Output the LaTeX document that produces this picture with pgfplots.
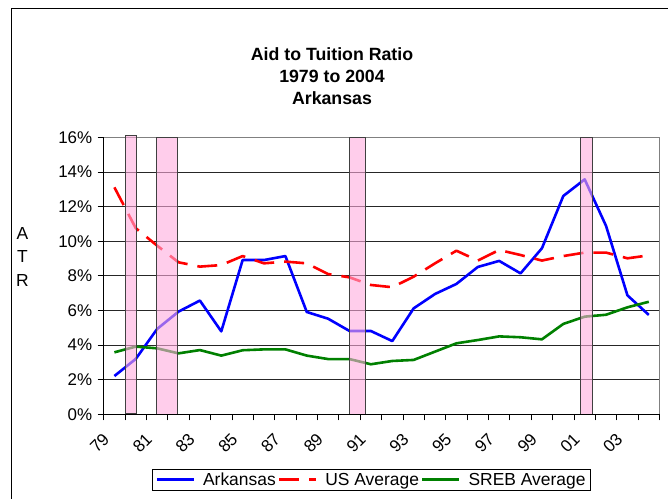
\documentclass[border=0pt]{standalone}
\usepackage{fontspec}
\setmainfont{Liberation Sans}
\usepackage{pgfplots}
\pgfplotsset{compat=1.18}
\definecolor{arblue}{RGB}{0,0,255}
\definecolor{usred}{RGB}{255,0,0}
\definecolor{srebgreen}{RGB}{0,128,0}
\definecolor{recpink}{RGB}{255,171,222}
\pgfplotsset{
  legend image code/.code={\draw[#1,line cap=butt] (0bp,0bp) -- (37bp,0bp);}
}
\begin{document}
\begin{tikzpicture}
\useasboundingbox (0,0) rectangle (668bp,499bp);
\draw[line width=1bp] (11.7bp,-5bp) -- (11.7bp,490.7bp) -- (680bp,490.7bp);
\node[align=center, font=\fontsize{17.8}{22}\selectfont\bfseries, inner sep=0pt] at (332bp,423bp) {Aid to Tuition Ratio\\1979 to 2004\\Arkansas};
\node[align=center, font=\fontsize{17.5}{24}\selectfont, inner sep=0pt] at (22.5bp,242bp) {A\\T\\R};
\begin{axis}[
  at={(103.7bp,84.7bp)}, anchor=south west,
  scale only axis, width=555.8bp, height=277bp,
  xmin=1978.5, xmax=2004.5, ymin=0, ymax=16,
  clip=false,
  axis line style={draw=gray, line width=0.8bp},
  ytick={0,2,...,16},
  yticklabels={0\%,2\%,4\%,6\%,8\%,10\%,12\%,14\%,16\%},
  ymajorgrids, grid style={black!85, line width=0.8bp},
  xtick={1979,1981,...,2003},
  xticklabels={79,81,83,85,87,89,91,93,95,97,99,01,03},
  minor xtick={1978.5,1979.5,...,2004.5},
  tick align=outside, major tick length=6bp, minor tick length=6bp,
  tick pos=left,
  tick style={black, line width=0.8bp},
  every major x tick/.style={draw=none},
  tick label style={font=\fontsize{17}{20}\selectfont},
  yticklabel style={xshift=-2bp},
  xticklabel style={xshift=-8bp, yshift=-16bp, rotate=45, anchor=east, inner sep=0pt},
  legend style={at={(axis description cs:0.0874,-0.199)}, anchor=north west,
    legend columns=3, draw=black, font=\fontsize{17.5}{20}\selectfont,
    inner xsep=3bp, inner ysep=1bp,
    /tikz/every odd column/.append style={column sep=6bp}},
  legend cell align=left,
]
\addplot[arblue, line width=2.6bp, line join=round] coordinates {
(1979,2.21) (1980,3.2) (1981,4.93) (1982,5.93) (1983,6.57) (1984,4.79)
(1985,8.91) (1986,8.91) (1987,9.14) (1988,5.91) (1989,5.52) (1990,4.81)
(1991,4.81) (1992,4.23) (1993,6.12) (1994,6.95) (1995,7.53) (1996,8.51)
(1997,8.86) (1998,8.14) (1999,9.59) (2000,12.61) (2001,13.57) (2002,10.88)
(2003,6.87) (2004,5.74)};
\addlegendentry{Arkansas}
\addplot[usred, line width=2.6bp, line join=round, dash pattern=on 20bp off 10bp] coordinates {
(1979,13.11) (1980,10.75) (1981,9.74) (1982,8.78) (1983,8.53) (1984,8.62)
(1985,9.14) (1986,8.72) (1987,8.82) (1988,8.72) (1989,8.10) (1990,7.91)
(1991,7.47) (1992,7.34) (1993,7.95) (1994,8.72) (1995,9.45) (1996,8.88)
(1997,9.49) (1998,9.20) (1999,8.88) (2000,9.14) (2001,9.34) (2002,9.34)
(2003,9.01) (2004,9.18)};
\addlegendentry{US Average}
\addplot[srebgreen, line width=2.6bp, line join=round] coordinates {
(1979,3.58) (1980,3.91) (1981,3.81) (1982,3.52) (1983,3.71) (1984,3.39)
(1985,3.70) (1986,3.75) (1987,3.75) (1988,3.39) (1989,3.19) (1990,3.19)
(1991,2.89) (1992,3.08) (1993,3.14) (1994,3.62) (1995,4.10) (1996,4.29)
(1997,4.50) (1998,4.45) (1999,4.33) (2000,5.22) (2001,5.64) (2002,5.75)
(2003,6.18) (2004,6.50)};
\addlegendentry{SREB Average}
\addplot[forget plot, fill=recpink, fill opacity=0.6, draw=black!75, line width=0.8bp]
  coordinates {(1979.53,0.05) (1979.53,16.12) (1980.03,16.12) (1980.03,0.05)} -- cycle;
\addplot[forget plot, fill=recpink, fill opacity=0.6, draw=black!75, line width=0.8bp]
  coordinates {(1980.97,0) (1980.97,16) (1981.93,16) (1981.93,0)} -- cycle;
\addplot[forget plot, fill=recpink, fill opacity=0.6, draw=black!75, line width=0.8bp]
  coordinates {(1990.0,0) (1990.0,16) (1990.75,16) (1990.75,0)} -- cycle;
\addplot[forget plot, fill=recpink, fill opacity=0.6, draw=black!75, line width=0.8bp]
  coordinates {(2000.78,0) (2000.78,16) (2001.36,16) (2001.36,0)} -- cycle;
\draw[black, line width=1bp] (axis cs:1978.5,16) -- (axis cs:1978.5,0) -- (axis cs:2004.5,0);
\end{axis}
\end{tikzpicture}
\end{document}
